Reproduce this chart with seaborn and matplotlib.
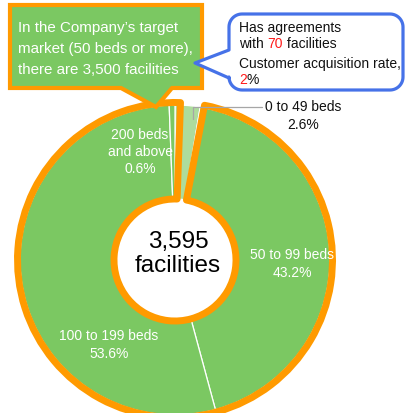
import numpy as np
import matplotlib
matplotlib.use("Agg")
import matplotlib.pyplot as plt
from matplotlib.patches import Wedge, Polygon
import seaborn as sns

# ---- data ----
categories = ["0 to 49 beds", "50 to 99 beds", "100 to 199 beds", "200 beds and above"]
shares = [2.6, 43.2, 53.6, 0.6]
label_texts = ["0 to 49 beds\n2.6%", "50 to 99 beds\n43.2%", "100 to 199 beds\n53.6%", "200 beds\nand above\n0.6%"]
total_text = "3,595\nfacilities"
target_note = ["In the Company\u2019s target", "market (50 beds or more),", "there are 3,500 facilities"]
agreements = 70
acq_rate = 2

sns.set_theme(style="white")
plt.rcParams['font.family'] = ['Liberation Sans', 'DejaVu Sans']

GREEN = "#7BC862"
LIGHT = "#ADDC9C"
ORANGE = "#FF9A00"
BLUE = "#4672E8"
RED = "#FF1A1A"
palette = sns.color_palette([LIGHT, GREEN, GREEN, GREEN])

W, H = 405, 413
fig = plt.figure(figsize=(W / 100, H / 100), dpi=100)
ax = fig.add_axes([0, 0, 1, 1])

def Y(y):
    return H - y

cx, cy = 175, Y(260)
R = 155
inner = 61

ax.pie(shares, colors=palette, startangle=90, counterclock=False, radius=R,
       center=(cx, cy), wedgeprops=dict(width=R - inner, edgecolor="white", linewidth=0.9))

ax.set_xlim(0, W)
ax.set_ylim(0, H)
ax.set_aspect("equal")
ax.axis("off")

# orange highlight around target market (50 beds or more)
ax.add_patch(Wedge((cx, cy), 157.5, 90 - 362, 90 - 10.8, width=157.5 - inner,
                   fill=False, ec=ORANGE, lw=5, joinstyle="round", zorder=5))

# labels
ax.text(292, Y(264), label_texts[1], color="white", fontsize=10, ha="center", va="center", linespacing=1.3, zorder=6)
ax.text(109, Y(345), label_texts[2], color="white", fontsize=10, ha="center", va="center", linespacing=1.3, zorder=6)
ax.text(140, Y(152), label_texts[3], color="white", fontsize=10, ha="center", va="center", linespacing=1.3, zorder=6)
ax.text(303, Y(116), label_texts[0], color="#111111", fontsize=10, ha="center", va="center", linespacing=1.3, zorder=6)
ax.plot([193, 193, 262], [Y(119), Y(107), Y(107)], color="#A6A6A6", lw=0.9, zorder=6)

# center total
ax.text(178, Y(254), total_text, color="black", fontsize=17.5, ha="center", va="center", linespacing=1.15, zorder=6)

# green callout box
gpts = [(10, 5), (202, 5), (202, 88), (172, 88), (156, 107), (121, 88), (10, 88)]
ax.add_patch(Polygon([(x, Y(y)) for x, y in gpts], closed=True, fc=GREEN, ec=ORANGE,
                     lw=3, joinstyle="miter", zorder=7))
for i, line in enumerate(target_note):
    ax.text(18, Y(28 + i * 21), line, color="white", fontsize=10.9, ha="left", va="center", zorder=8)

# blue rounded callout with pointer
def rounded_callout(x0, y0, x1, y1, r, tip, base_top, base_bot, n=12):
    pts = [(x0, base_bot)]
    for a in np.linspace(180, 90, n):
        pts.append((x0 + r + r * np.cos(np.radians(a)), y1 - r + r * np.sin(np.radians(a))))
    for a in np.linspace(90, 0, n):
        pts.append((x1 - r + r * np.cos(np.radians(a)), y1 - r + r * np.sin(np.radians(a))))
    for a in np.linspace(0, -90, n):
        pts.append((x1 - r + r * np.cos(np.radians(a)), y0 + r + r * np.sin(np.radians(a))))
    for a in np.linspace(-90, -180, n):
        pts.append((x0 + r + r * np.cos(np.radians(a)), y0 + r + r * np.sin(np.radians(a))))
    pts.append((x0, base_top))
    pts.append(tip)
    return pts

bpts = rounded_callout(229, 14, 403, 90, 13, (195, 63), 50, 78)
ax.add_patch(Polygon([(x, Y(y)) for x, y in bpts], closed=True, fc="white", ec=BLUE,
                     lw=2.3, joinstyle="round", zorder=9))

fig.canvas.draw()
renderer = fig.canvas.get_renderer()

def seq_text(x, y, parts, fs):
    for s, c in parts:
        t = ax.text(x, Y(y), s, color=c, fontsize=fs, ha="left", va="center", zorder=10)
        bb = t.get_window_extent(renderer=renderer)
        x = ax.transData.inverted().transform((bb.x1, bb.y0))[0]

ax.text(239, Y(28), "Has agreements", color="#111111", fontsize=10, ha="left", va="center", zorder=10)
seq_text(239, 44, [("with ", "#111111"), (str(agreements), RED), (" facilities", "#111111")], 10)
ax.text(239, Y(64), "Customer acquisition rate,", color="#111111", fontsize=10, ha="left", va="center", zorder=10)
seq_text(239, 80, [(str(acq_rate), RED), ("%", "#111111")], 10)

fig.savefig("out.png", dpi=100)
